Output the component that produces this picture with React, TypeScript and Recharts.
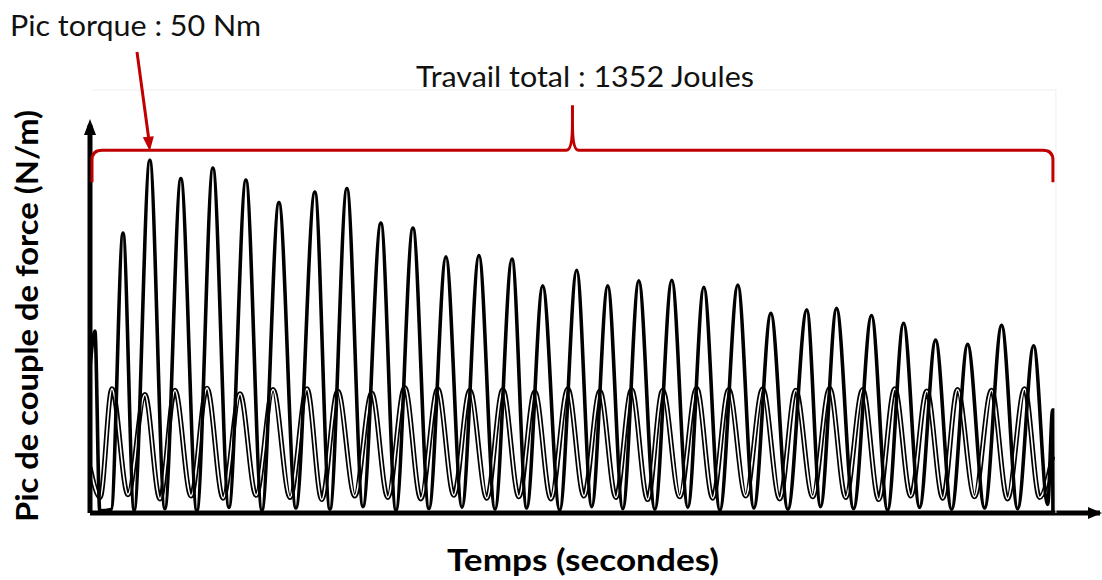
import React from 'react';
import { LineChart, Line, XAxis, YAxis } from 'recharts';

// main torque trace: peaks and troughs (s, Nm)
const bigTime = [
    0, 0.15, 0.3, 0.65, 1.01, 1.35, 1.83, 2.29, 2.78, 3.27, 3.76, 4.25, 4.77, 5.26, 5.78, 6.3,
    6.88, 7.34, 7.86, 8.35, 8.9, 9.36, 9.88, 10.37, 10.89, 11.38, 11.9, 12.39, 12.91, 13.36,
    13.85, 14.37, 14.89, 15.35, 15.84, 16.3, 16.79, 17.28, 17.8, 18.29, 18.78, 19.27, 19.82,
    20.31, 20.83, 21.35, 21.93, 22.35, 22.84, 23.36, 23.91, 24.4, 24.89, 25.38, 25.87, 26.36,
    26.85, 27.37, 27.89, 28.38, 28.87, 29.3, 29.45, 29.46,
];
const bigTorque = [
    20.6, 25.8, 0.3, 0.5, 39.7, 0.4, 50.0, 0.6, 47.4, 0.3, 48.9, 0.8, 47.2, 0.4, 44.0, 0.7,
    45.5, 0.5, 46.0, 0.9, 41.1, 0.4, 40.4, 0.6, 36.3, 0.8, 36.5, 0.5, 36.0, 0.7,
    32.2, 0.4, 34.4, 0.9, 32.2, 0.6, 32.9, 0.5, 33.0, 0.8, 32.0, 0.4, 32.3,
    0.7, 28.3, 0.5, 28.8, 0.9, 29.0, 0.6, 28.0, 0.4, 26.9, 0.8, 24.5, 0.5,
    23.9, 0.7, 26.6, 0.6, 23.7, 1.2, 14.6, 0,
];

// secondary (thin, hollow) trace
const smallTime = [
    0, 0.31, 0.67, 1.16, 1.68, 2.14, 2.6, 3.09, 3.58, 4.07, 4.59, 5.08, 5.6, 6.12, 6.64, 7.09,
    7.58, 8.1, 8.62, 9.11, 9.63, 10.12, 10.64, 11.13, 11.62, 12.14, 12.63, 13.12, 13.61, 14.1,
    14.62, 15.11, 15.6, 16.09, 16.57, 17.06, 17.52, 18.04, 18.56, 19.05, 19.54, 20.06, 20.58,
    21.1, 21.59, 22.11, 22.63, 23.12, 23.64, 24.13, 24.62, 25.11, 25.6, 26.09, 26.54, 27.06,
    27.58, 28.07, 28.59, 29.05, 29.45,
];
const smallTorque = [
    6.5, 2.2, 17.6, 2.6, 16.8, 2.0, 17.4, 2.4, 17.7, 2.1, 16.9, 2.5, 17.5, 2.2, 17.6, 1.9,
    17.3, 2.4, 17.0, 2.2, 17.8, 2.0, 17.6, 2.5, 17.4, 2.1, 17.5, 2.3, 17.2, 2.0,
    17.6, 2.4, 17.3, 2.2, 17.5, 1.9, 17.4, 2.3, 17.7, 2.1, 17.5, 2.4, 17.6,
    2.0, 17.4, 2.3, 17.7, 2.2, 17.5, 1.9, 17.6, 2.4, 17.3, 2.1, 17.5, 2.3,
    17.4, 2.0, 17.6, 2.2, 8.0,
];

const peakLabel = 'Pic torque : 50 Nm';
const workLabel = 'Travail total : 1352 Joules';
const xLabel = 'Temps (secondes)';
const yLabel = 'Pic de couple de force (N/m)';

const bigData = bigTime.map((t, i) => ({ t, v: bigTorque[i] }));
const smallData = smallTime.map((t, i) => ({ t, v: smallTorque[i] }));

const W = 1102;
const H = 580;
const MARGIN = { top: 125, right: 2, bottom: 66, left: 89 };
const X_MAX = 30.9;
const Y_MAX = 55;
const RED = '#C00000';
const FONT = "Lato, 'Open Sans', sans-serif";

// pixel helpers for the annotation overlay (same geometry as the chart)
const plotLeft = MARGIN.left + 1;
const plotBottom = H - MARGIN.bottom - 1;
const plotW = W - MARGIN.right - plotLeft;
const plotH = plotBottom - MARGIN.top;
const px = (t: number) => plotLeft + (t / X_MAX) * plotW;
const py = (v: number) => plotBottom - (v / Y_MAX) * plotH;

const Annotations = () => {
    const x0 = px(bigTime[0]) + 2;
    const x1 = px(bigTime[bigTime.length - 1]);
    const xm = (x0 + x1) / 2;
    const yb = py(Math.max(...bigTorque)) - 10; // bracket line
    const yEnd = yb + 32;
    const yTip = yb - 45;
    const bracket = [
        `M ${x0} ${yEnd}`,
        `L ${x0} ${yb + 10}`,
        `Q ${x0} ${yb} ${x0 + 10} ${yb}`,
        `L ${xm - 6} ${yb}`,
        `Q ${xm} ${yb} ${xm} ${yTip + 18}`,
        `L ${xm} ${yTip}`,
        `M ${xm} ${yTip + 18}`,
        `Q ${xm} ${yb} ${xm + 6} ${yb}`,
        `L ${x1 - 10} ${yb}`,
        `Q ${x1} ${yb} ${x1} ${yb + 10}`,
        `L ${x1} ${yEnd}`,
    ].join(' ');

    // arrow towards the highest peak
    const peakIdx = bigTorque.indexOf(Math.max(...bigTorque));
    const ax = px(bigTime[peakIdx]);
    const ay = yb + 1;

    return (
        <svg width={W} height={H} style={{ position: 'absolute', left: 0, top: 0, pointerEvents: 'none' }}>
            {/* faint border of the scanned trace */}
            <path d={`M ${x0} ${MARGIN.top - 35} L ${x1 + 3} ${MARGIN.top - 35} L ${x1 + 3} ${py(0)}`} fill="none" stroke="#f0f0f0" strokeWidth={1} />
            <path d={bracket} fill="none" stroke={RED} strokeWidth={3} strokeLinejoin="round" />
            <line x1={137} y1={52} x2={ax - 1} y2={ay - 12} stroke={RED} strokeWidth={3} />
            <polygon points={`${ax},${ay} ${ax - 7},${ay - 14} ${ax + 4},${ay - 15}`} fill={RED} />

            {/* axis arrow heads */}
            <polygon points={`${plotLeft},${MARGIN.top - 6} ${plotLeft - 6},${MARGIN.top + 10} ${plotLeft + 6},${MARGIN.top + 10}`} fill="#000" />
            <polygon points={`${W},${plotBottom} ${W - 14},${plotBottom - 6} ${W - 14},${plotBottom + 6}`} fill="#000" />

            <text x={10} y={36} fontFamily={FONT} fontSize={28} fill="#111" textLength={251} lengthAdjust="spacingAndGlyphs">{peakLabel}</text>
            <text x={416} y={87} fontFamily={FONT} fontSize={28} fill="#111" textLength={338} lengthAdjust="spacingAndGlyphs">{workLabel}</text>
            <text x={583} y={571} textAnchor="middle" fontFamily={FONT} fontWeight="bold" fontSize={30} fill="#000" textLength={272} lengthAdjust="spacingAndGlyphs">{xLabel}</text>
            <text
                transform={`translate(38, 316) rotate(-90)`}
                textAnchor="middle"
                fontFamily={FONT}
                fontWeight="bold"
                fontSize={30}
                fill="#000"
                textLength={412}
                lengthAdjust="spacingAndGlyphs"
            >
                {yLabel}
            </text>
        </svg>
    );
};

const App = () => {
    return (
        <div style={{ position: 'absolute', left: 0, top: 0, width: W, height: H, background: '#fff' }}>
            <LineChart width={W} height={H} margin={MARGIN}>
                <XAxis
                    type="number"
                    dataKey="t"
                    domain={[0, X_MAX]}
                    allowDataOverflow
                    height={1}
                    tick={false}
                    tickLine={false}
                    axisLine={{ stroke: '#000', strokeWidth: 5 }}
                />
                <YAxis
                    type="number"
                    domain={[0, Y_MAX]}
                    allowDataOverflow
                    width={1}
                    tick={false}
                    tickLine={false}
                    axisLine={{ stroke: '#000', strokeWidth: 5 }}
                />
                {/* thin trace drawn as a hollow double line */}
                <Line data={smallData} dataKey="v" type="monotone" stroke="#000" strokeWidth={5} dot={false} isAnimationActive={false} />
                <Line data={smallData} dataKey="v" type="monotone" stroke="#fff" strokeWidth={1.6} dot={false} isAnimationActive={false} />
                <Line data={bigData} dataKey="v" type="monotone" stroke="#000" strokeWidth={3.6} dot={false} isAnimationActive={false} />
            </LineChart>
            <Annotations />
        </div>
    );
};

export default App;
